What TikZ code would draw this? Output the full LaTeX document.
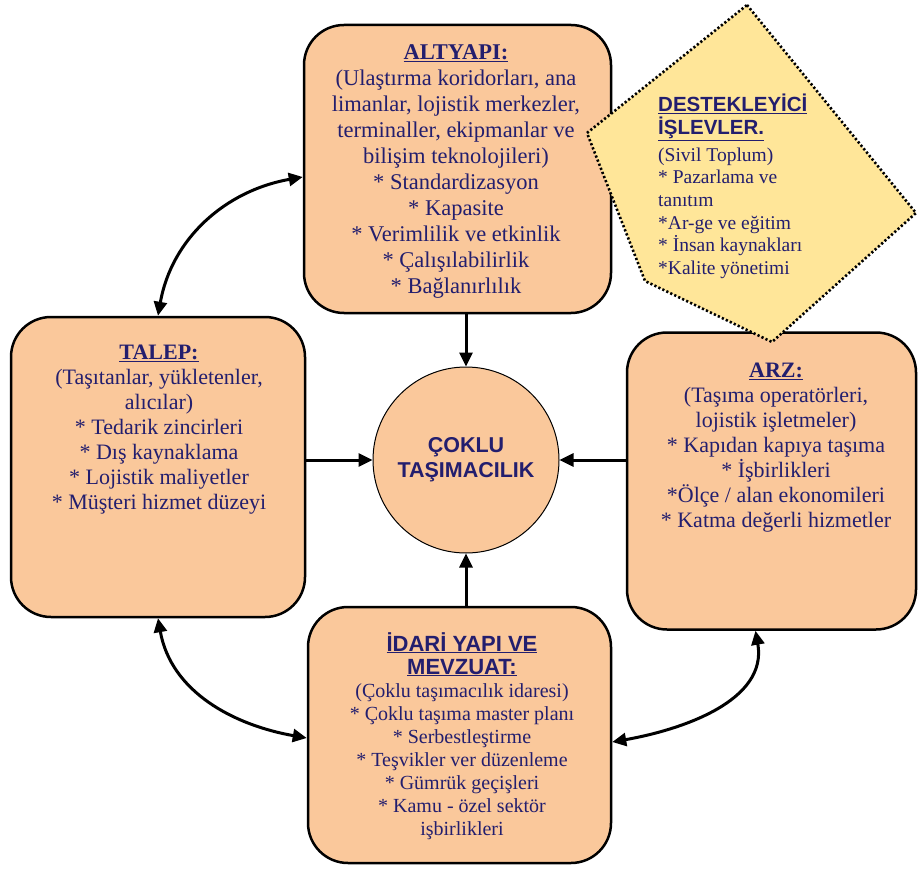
\documentclass[tikz,border=0pt]{standalone}
\usepackage{fontspec}
\setmainfont{Liberation Serif}
\newfontfamily\bodyfont{Liberation Serif}
\newfontfamily\headfont{Liberation Sans}
\usetikzlibrary{arrows.meta}

\definecolor{peach}{RGB}{250,200,155}
\definecolor{paleyellow}{RGB}{255,230,153}
\definecolor{inkblue}{RGB}{35,30,110}

\begin{document}
\begin{tikzpicture}[x=1pt, y=1pt,
    panel/.style={
      draw=black,
      line width=2.5pt,
      fill=peach,
      rounded corners=40pt,
      inner sep=0pt
    },
    paneltext/.style={
      text=inkblue,
      align=center,
      inner sep=0pt,
      anchor=north
    },
    flow/.style={line width=3pt, -{Triangle[length=14pt, width=13pt]}},
    link/.style={line width=3pt, {Triangle[length=14pt, width=13pt]}-{Triangle[length=14pt, width=13pt]}}
  ]
  \useasboundingbox (0,0) rectangle (918,-869);

  % Box ALTYAPI
  \node[panel, minimum width=307pt, minimum height=288pt] (altyapi) at (457.5,-169) {};
  \node[paneltext, font=\bodyfont\fontsize{22.5}{26}\selectfont] (altyapitext) at (456,-44) {%
    \underline{\textbf{ALTYAPI:}}\\
    (Ulaştırma koridorları, ana\\
    limanlar, lojistik merkezler,\\
    terminaller, ekipmanlar ve\\
    bilişim teknolojileri)\\
    * Standardizasyon\\
    * Kapasite\\
    * Verimlilik ve etkinlik\\
    * Çalışılabilirlik\\
    * Bağlanırlılık};

  % Box TALEP
  \node[panel, minimum width=294pt, minimum height=300pt] (talep) at (158,-467) {};
  \node[paneltext, font=\bodyfont\fontsize{22}{25}\selectfont] (taleptext) at (159,-345) {%
    \underline{\textbf{TALEP:}}\\
    (Taşıtanlar, yükletenler,\\
    alıcılar)\\
    * Tedarik zincirleri\\
    * Dış kaynaklama\\
    * Lojistik maliyetler\\
    * Müşteri hizmet düzeyi};

  % Box ARZ
  \node[panel, minimum width=289pt, minimum height=297pt] (arz) at (771.5,-481) {};
  \node[paneltext, font=\bodyfont\fontsize{22}{25}\selectfont] (arztext) at (776,-363) {%
    \underline{\textbf{ARZ:}}\\
    (Taşıma operatörleri,\\
    lojistik işletmeler)\\
    * Kapıdan kapıya taşıma\\
    * İşbirlikleri\\
    *Ölçe / alan ekonomileri\\
    * Katma değerli hizmetler};

  % Box IDARI YAPI
  \node[panel, minimum width=303pt, minimum height=256pt] (idari) at (459.5,-735) {};
  \node[paneltext, font=\bodyfont\fontsize{20}{23}\selectfont] (idaritext) at (462,-632) {%
    {\headfont\bfseries\fontsize{22}{24}\selectfont\underline{İDARİ YAPI VE}}\\
    {\headfont\bfseries\fontsize{22}{24}\selectfont\underline{MEVZUAT:}}\\
    (Çoklu taşımacılık idaresi)\\
    * Çoklu taşıma master planı\\
    * Serbestleştirme\\
    * Teşvikler ver düzenleme\\
    * Gümrük geçişleri\\
    * Kamu - özel sektör\\
    işbirlikleri};

  % Centre circle
  \node[circle, draw=black, line width=1pt, fill=peach, minimum size=186pt, inner sep=0pt,
    text=inkblue, align=center, font=\headfont\bfseries\fontsize{21.5}{25}\selectfont] (coklu) at (466,-460)
    {ÇOKLU\\TAŞIMACILIK};

  % Dotted diamond
  \filldraw[
    fill=paleyellow,
    draw=black,
    line width=2.6pt,
    dash pattern=on 2.2pt off 2.2pt
  ] (747,-5) -- (916,-213) -- (772,-342) -- (645,-281) -- (587,-133) -- cycle;
  \node[text=inkblue, align=left, inner sep=0pt, anchor=north west,
    font=\bodyfont\fontsize{19.5}{22.7}\selectfont] (destek) at (658,-94) {%
    {\headfont\bfseries\fontsize{20.5}{23}\selectfont\underline{DESTEKLEYİCİ}}\\
    {\headfont\bfseries\fontsize{20.5}{23}\selectfont\underline{İŞLEVLER.}}\\[4pt]
    (Sivil Toplum)\\
    * Pazarlama ve\\
    tanıtım\\
    *Ar-ge ve eğitim\\
    * İnsan kaynakları\\
    *Kalite yönetimi};

  % Arrows into the circle
  \draw[flow] (altyapi.south -| coklu.north) -- (coklu.north);
  \draw[flow] (talep.east |- coklu.west) -- (coklu.west);
  \draw[flow] (arz.west |- coklu.east) -- (coklu.east);
  \draw[flow] (idari.north -| coklu.south) -- (coklu.south);

  % Curved links between boxes
  \draw[link] (talep.north) to[out=80, in=190] ([yshift=-8pt]altyapi.west);
  \draw[link] (talep.south) to[out=-80, in=170] ([yshift=-3pt]idari.west);
  \draw[link] ([yshift=-7pt]idari.east) to[out=10, in=-80] ([xshift=-16pt]arz.south);
\end{tikzpicture}
\end{document}
